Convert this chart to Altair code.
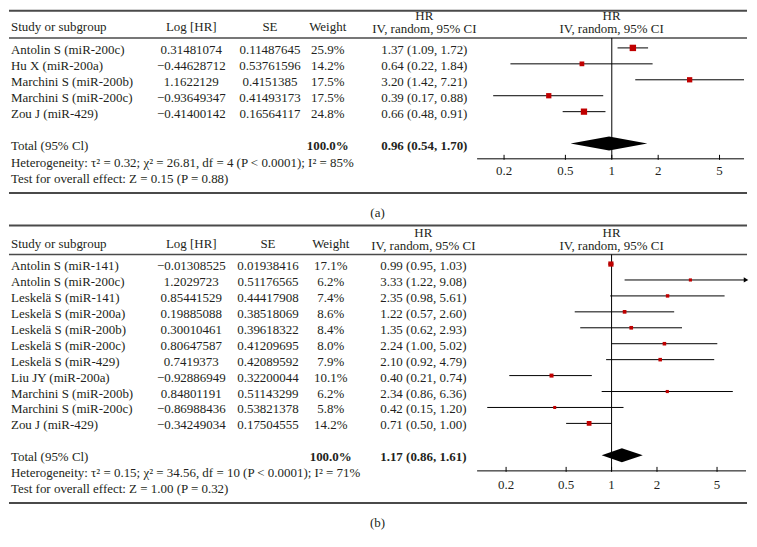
import altair as alt
import pandas as pd

# ---------------- data: panel (a) ----------------
a_study = ["Antolin S (miR-200c)", "Hu X (miR-200a)", "Marchini S (miR-200b)",
           "Marchini S (miR-200c)", "Zou J (miR-429)"]
a_loghr = ["0.31481074", "\u22120.44628712", "1.1622129", "\u22120.93649347", "\u22120.41400142"]
a_se = ["0.11487645", "0.53761596", "0.4151385", "0.41493173", "0.16564117"]
a_weight = [25.9, 14.2, 17.5, 17.5, 24.8]
a_hr = [1.37, 0.64, 3.20, 0.39, 0.66]
a_lo = [1.09, 0.22, 1.42, 0.17, 0.48]
a_hi = [1.72, 1.84, 7.21, 0.88, 0.91]
a_total = [0.96, 0.54, 1.70]
a_het = "Heterogeneity: \u03c4\u00b2 = 0.32; \u03c7\u00b2 = 26.81, df = 4 (P < 0.0001); I\u00b2 = 85%"
a_test = "Test for overall effect: Z = 0.15 (P = 0.88)"

# ---------------- data: panel (b) ----------------
b_study = ["Antolin S (miR-141)", "Antolin S (miR-200c)", "Leskel\u00e4 S (miR-141)",
           "Leskel\u00e4 S (miR-200a)", "Leskel\u00e4 S (miR-200b)", "Leskel\u00e4 S (miR-200c)",
           "Leskel\u00e4 S (miR-429)", "Liu JY (miR-200a)", "Marchini S (miR-200b)",
           "Marchini S (miR-200c)", "Zou J (miR-429)"]
b_loghr = ["\u22120.01308525", "1.2029723", "0.85441529", "0.19885088", "0.30010461",
           "0.80647587", "0.7419373", "\u22120.92886949", "0.84801191", "\u22120.86988436",
           "\u22120.34249034"]
b_se = ["0.01938416", "0.51176565", "0.44417908", "0.38518069", "0.39618322", "0.41209695",
        "0.42089592", "0.32200044", "0.51143299", "0.53821378", "0.17504555"]
b_weight = [17.1, 6.2, 7.4, 8.6, 8.4, 8.0, 7.9, 10.1, 6.2, 5.8, 14.2]
b_hr = [0.99, 3.33, 2.35, 1.22, 1.35, 2.24, 2.10, 0.40, 2.34, 0.42, 0.71]
b_lo = [0.95, 1.22, 0.98, 0.57, 0.62, 1.00, 0.92, 0.21, 0.86, 0.15, 0.50]
b_hi = [1.03, 9.08, 5.61, 2.60, 2.93, 5.02, 4.79, 0.74, 6.36, 1.20, 1.00]
b_total = [1.17, 0.86, 1.61]
b_het = "Heterogeneity: \u03c4\u00b2 = 0.15; \u03c7\u00b2 = 34.56, df = 10 (P < 0.0001); I\u00b2 = 71%"
b_test = "Test for overall effect: Z = 1.00 (P = 0.32)"

tick_values = [0.2, 0.5, 1, 2, 5]
tick_labels = ["0.2", "0.5", "1", "2", "5"]

# ---------------- style ----------------
FONT = "Liberation Serif"
FS = 13
TXT = "#231f20"
RULE = "#4a4a4a"
RED = "#c00000"
W = 741


def fmt(v):
    return f"{v:.2f}"


def panel(study, loghr, se, weight, hr, lo, hi, total, het, test, label, L):
    n = len(study)
    ys = alt.Scale(domain=[L["ytop"], L["ybot"]], reverse=True, nice=False, zero=False)
    xs = alt.Scale(type="log", domain=[L["dmin"], L["dmax"]], range=[470, L["xr"]], nice=False)
    Y = lambda f: alt.Y(f, scale=ys, axis=None)
    X = lambda f: alt.X(f, scale=xs, axis=None)

    df = pd.DataFrame({
        "row": list(range(n)), "study": study, "loghr": loghr, "se": se,
        "weight": weight, "wlab": [f"{w:.1f}%" for w in weight],
        "hr": hr, "lo": lo, "hi": hi,
        "hic": [min(h, L["dmax"]) for h in hi],
        "hrlab": [f"{fmt(a)} ({fmt(b)}, {fmt(c)})" for a, b, c in zip(hr, lo, hi)],
    })

    def txt(d, field, x, align="left", bold=False, dy=0):
        return alt.Chart(d).mark_text(
            align=align, baseline="middle", font=FONT, fontSize=FS,
            fontWeight="bold" if bold else "normal", dy=dy, color=TXT
        ).encode(x=alt.value(x), y=Y("row:Q"), text=f"{field}:N")

    layers = []
    # horizontal table rules
    rules = pd.DataFrame({"row": [L["top"], L["hdr"], L["bot"]], "w": [2, 1.5, 2]})
    layers.append(alt.Chart(rules).mark_rule(color=RULE).encode(
        x=alt.value(0), x2=alt.value(W), y=Y("row:Q"),
        strokeWidth=alt.StrokeWidth("w:Q", scale=None)))

    # headers
    h1 = pd.DataFrame({"row": [L["h_main"]], "a": ["Study or subgroup"], "b": ["Log [HR]"],
                       "c": ["SE"], "d": ["Weight"]})
    layers += [txt(h1, "a", 2), txt(h1, "b", 183, "center"), txt(h1, "c", L["xse"], "center"),
               txt(h1, "d", L["xw"], "center")]
    h2 = pd.DataFrame({"row": [L["h_hr"], L["h_iv"]], "t": ["HR", "IV, random, 95% CI"]})
    layers += [txt(h2, "t", L["xhr"], "center"), txt(h2, "t", 605, "center")]

    # study rows
    layers += [txt(df, "study", 2, dy=2), txt(df, "loghr", 183, "center", dy=2),
               txt(df, "se", L["xse"], "center", dy=2), txt(df, "wlab", L["xw"], "center", dy=2),
               txt(df, "hrlab", L["xhr"], "center", dy=2)]

    # total row
    trow = n + 1
    tdf = pd.DataFrame({"row": [trow], "a": ["Total (95% Cl)"], "w": ["100.0%"],
                        "h": [f"{fmt(total[0])} ({fmt(total[1])}, {fmt(total[2])})"]})
    layers += [txt(tdf, "a", 2, dy=2), txt(tdf, "w", L["xw"], "center", bold=True, dy=2),
               txt(tdf, "h", L["xhr"], "center", bold=True, dy=2)]
    foot = pd.DataFrame({"row": [L["het"], L["test"]], "t": [het, test]})
    layers.append(txt(foot, "t", 2))
    lab = pd.DataFrame({"row": [L["lab"]], "t": [label]})
    layers.append(txt(lab, "t", 370, "center"))

    # forest: vertical line of no effect
    vl = pd.DataFrame({"x": [1.0], "y": [L["hdr"]], "y2": [L["axis"]]})
    layers.append(alt.Chart(vl).mark_rule(color="black", strokeWidth=1).encode(
        x=X("x:Q"), y=Y("y:Q"), y2="y2:Q"))
    # CIs
    layers.append(alt.Chart(df).mark_rule(color="black", strokeWidth=1).encode(
        x=X("lo:Q"), x2="hic:Q", y=Y("row:Q")))
    arr = df[df["hi"] > L["dmax"]]
    if len(arr):
        layers.append(alt.Chart(arr).mark_point(shape="triangle-right", filled=True, color="black",
                                                size=28, opacity=1).encode(
            x=X("hic:Q"), y=Y("row:Q")))
    # squares
    layers.append(alt.Chart(df).mark_square(color=RED, opacity=1).encode(
        x=X("hr:Q"), y=Y("row:Q"),
        size=alt.Size("weight:Q", scale=alt.Scale(domain=[0, 100], range=[0, 160]), legend=None)))
    # diamond
    hh = 0.44
    dm = pd.DataFrame({"x": [total[1], total[0], total[2]],
                       "y": [trow, trow - hh, trow], "y2": [trow, trow + hh, trow]})
    layers.append(alt.Chart(dm).mark_area(color="black", opacity=1).encode(
        x=X("x:Q"), y=Y("y:Q"), y2="y2:Q"))
    # axis
    ax = pd.DataFrame({"x": [L["dmin"]], "x2": [L["dmax"]], "row": [L["axis"]]})
    layers.append(alt.Chart(ax).mark_rule(color="black", strokeWidth=1).encode(
        x=X("x:Q"), x2="x2:Q", y=Y("row:Q")))
    tk = pd.DataFrame({"x": tick_values, "lab": tick_labels,
                       "y": [L["axis"] - 0.25] * 5, "y2": [L["axis"] + 0.06] * 5,
                       "row": [L["tlab"]] * 5})
    layers.append(alt.Chart(tk).mark_rule(color="black", strokeWidth=1).encode(
        x=X("x:Q"), y=Y("y:Q"), y2="y2:Q"))
    layers.append(alt.Chart(tk).mark_text(font=FONT, fontSize=FS, color=TXT, baseline="middle",
                                          align="center").encode(
        x=X("x:Q"), y=Y("row:Q"), text="lab:N"))

    return alt.layer(*layers).properties(width=W, height=L["h"])


LA = dict(ytop=-2.375, ybot=10.875, h=212, top=-2.33, hdr=-0.625, bot=9.1,
          h_main=-1.31, h_hr=-2.02, h_iv=-1.17, het=7.23, test=8.23, lab=10.375,
          axis=6.96, tlab=7.75, dmin=0.1337, dmax=7.21, xr=738,
          xse=262, xw=320, xhr=417)
LB = dict(ytop=-2.6875, ybot=17.25, h=319, top=-2.42, hdr=-0.6, bot=15.0,
          h_main=-1.23, h_hr=-1.97, h_iv=-1.1, het=13.14, test=14.125, lab=16.25,
          axis=12.98, tlab=13.875, dmin=0.1285, dmax=7.78, xr=740,
          xse=260, xw=323, xhr=416)

pa = panel(a_study, a_loghr, a_se, a_weight, a_hr, a_lo, a_hi, a_total, a_het, a_test, "(a)", LA)
pb = panel(b_study, b_loghr, b_se, b_weight, b_hr, b_lo, b_hi, b_total, b_het, b_test, "(b)", LB)

chart = alt.vconcat(pa, pb, spacing=0).properties(padding=0, background="white") \
    .configure_view(stroke=None).configure_concat(spacing=0)

chart.save("out.html", embed_options={"renderer": "svg", "actions": False})
